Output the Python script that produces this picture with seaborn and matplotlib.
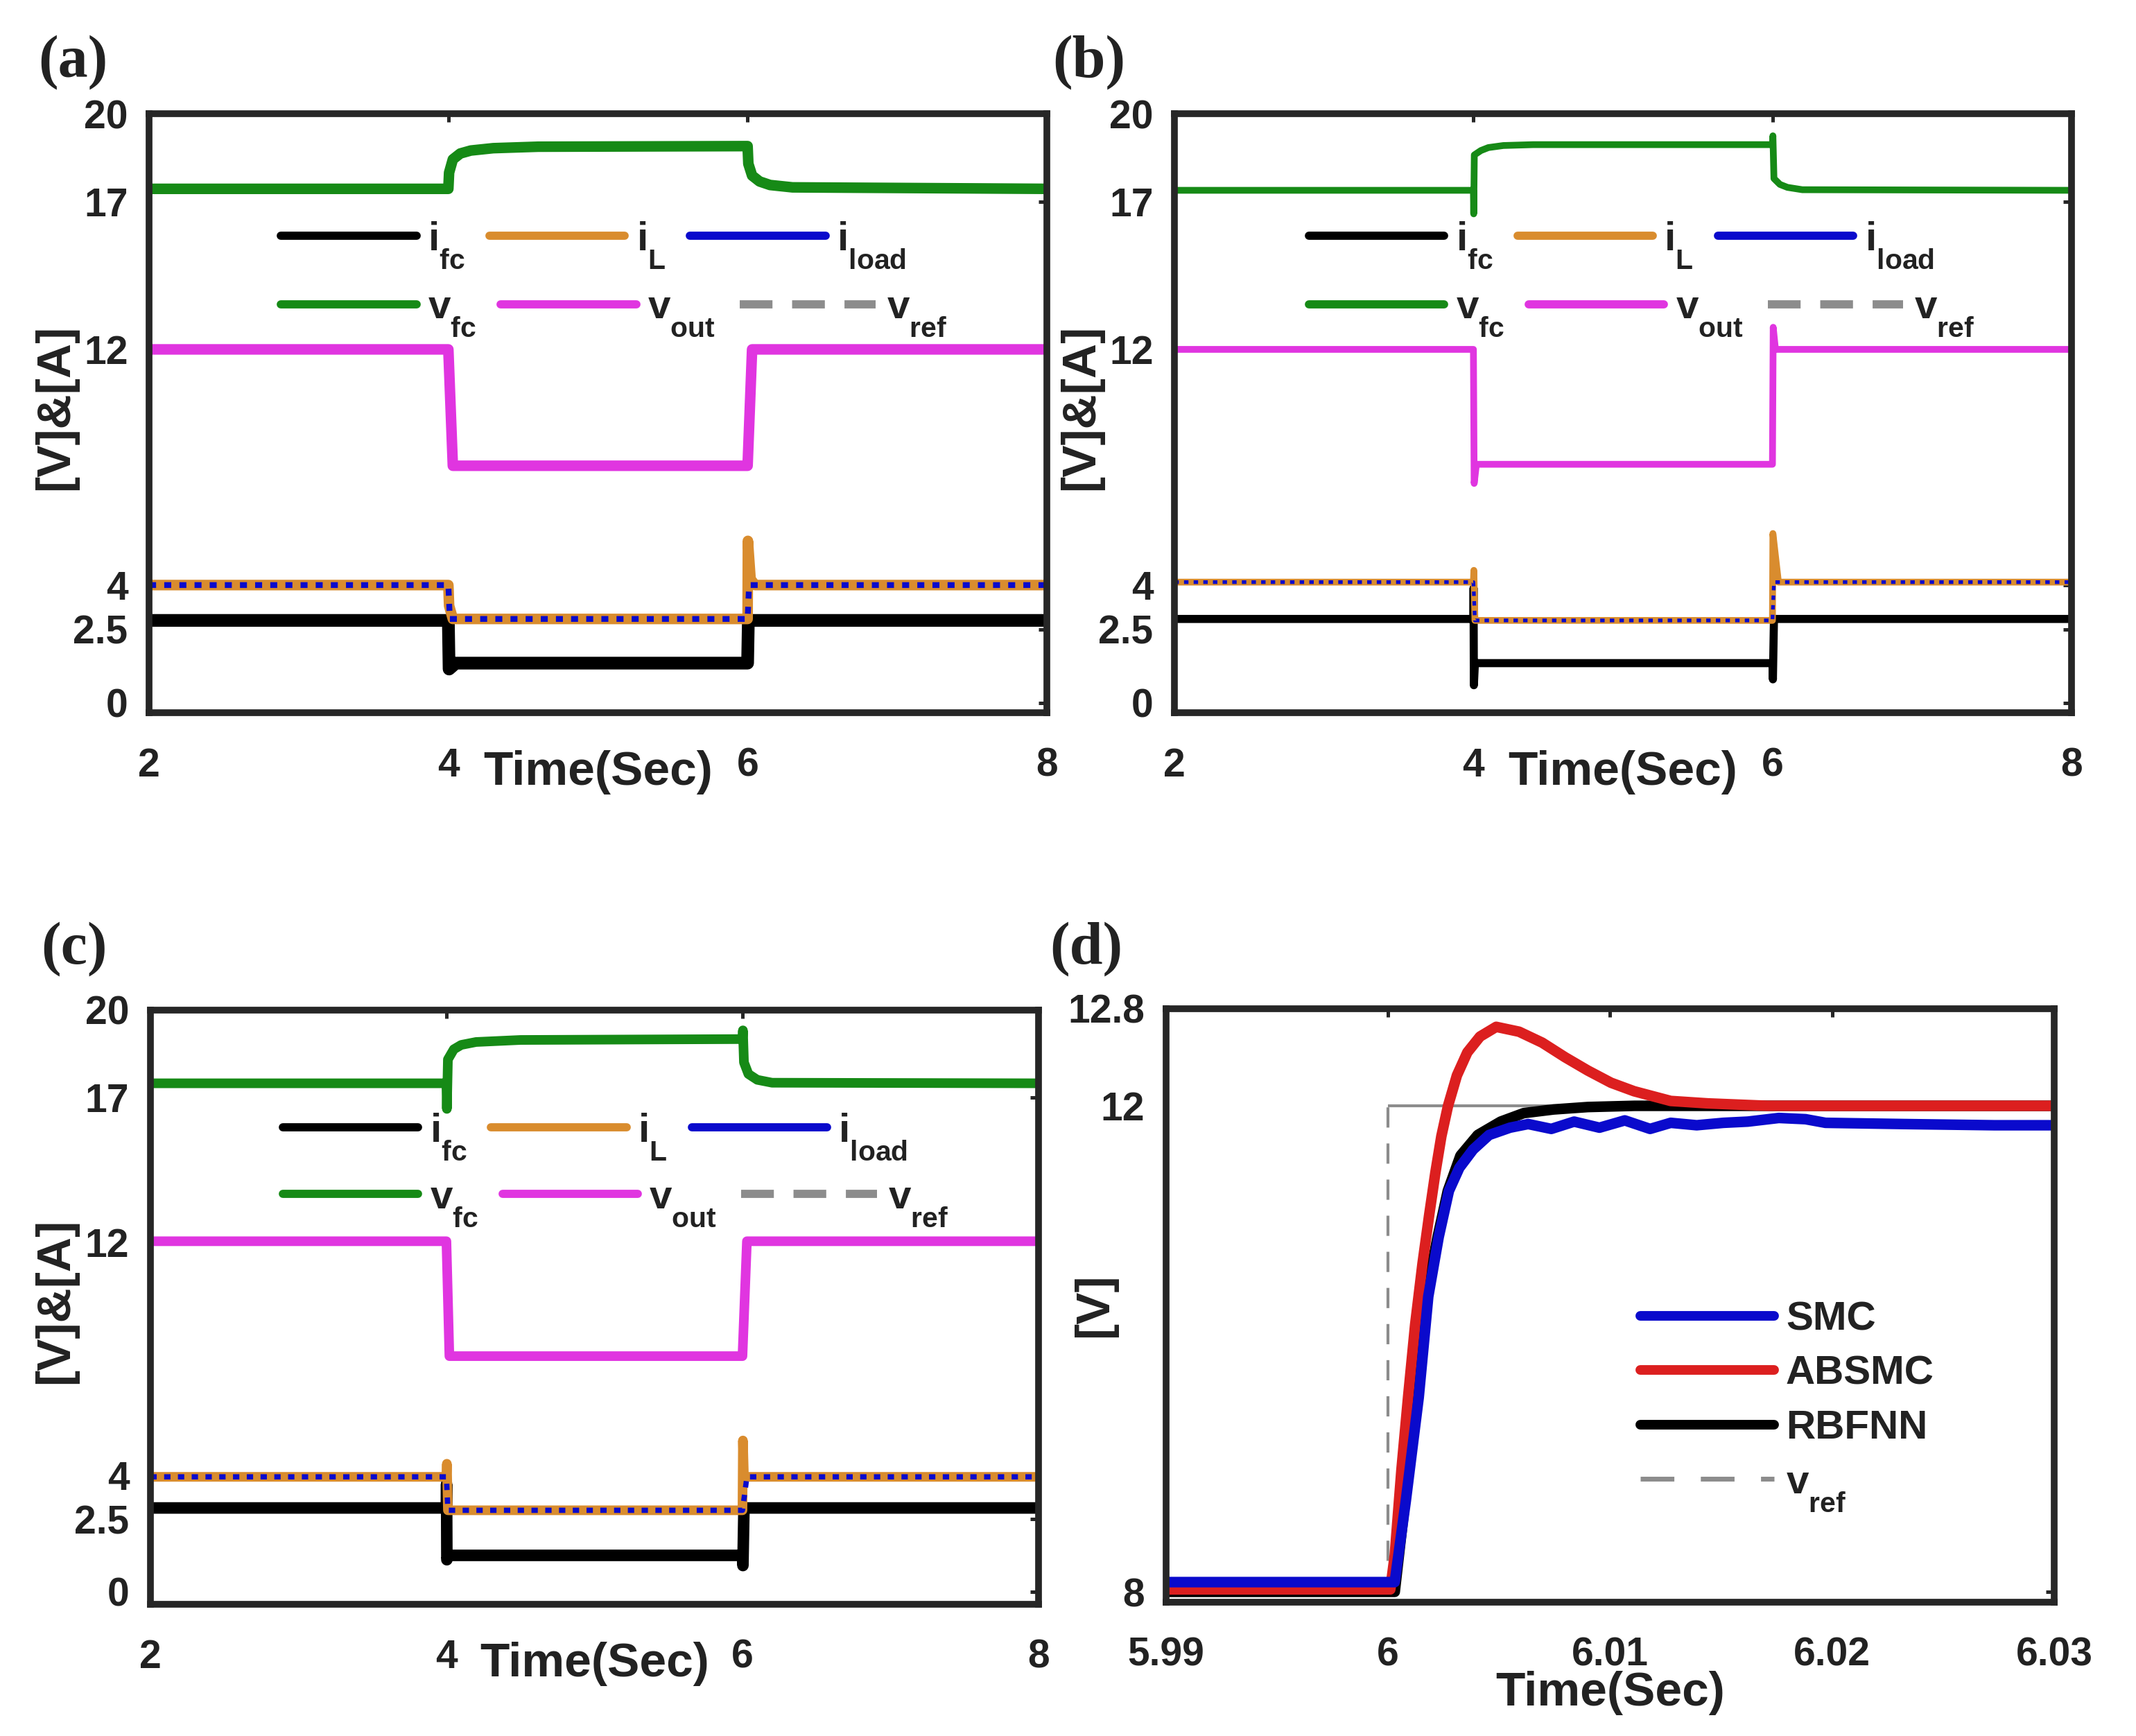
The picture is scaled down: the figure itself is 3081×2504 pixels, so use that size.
import matplotlib

matplotlib.use("Agg")
import matplotlib._mathtext as mathtext_internal
import matplotlib.pyplot as plt
import seaborn as sns
from matplotlib.lines import Line2D

# MATLAB puts subscripts well below the baseline
mathtext_internal.FontConstantsBase.sub1 = 0.9

# ---------------- data ----------------
# panel (a)
a_vfc_t = [2, 4, 4.005, 4.03, 4.08, 4.15, 4.3, 4.6, 6, 6.005, 6.03, 6.08, 6.15, 6.3, 8]
a_vfc = [17.45, 17.45, 18.0, 18.45, 18.65, 18.75, 18.83, 18.88, 18.9, 18.3, 17.9, 17.7, 17.58, 17.5, 17.45]
a_vout_t = [2, 4, 4.03, 6, 6.03, 8]
a_vout = [12, 12, 8.05, 8.05, 12, 12]
a_iL_t = [2, 4, 4.005, 4.03, 6, 6.002, 6.02, 6.05, 8]
a_iL = [4.0, 4.0, 3.3, 2.85, 2.85, 5.5, 4.2, 4.0, 4.0]
a_iload_t = [2, 4, 4.01, 6, 6.01, 8]
a_iload = [4.0, 4.0, 2.85, 2.85, 4.0, 4.0]
a_ifc_t = [2, 4, 4.005, 4.05, 6, 6.005, 8]
a_ifc = [2.8, 2.8, 1.15, 1.35, 1.35, 2.8, 2.8]

# panel (b)
b_vfc_t = [2, 4, 4.002, 4.006, 4.05, 4.1, 4.2, 4.4, 6, 6.003, 6.01, 6.05, 6.1, 6.2, 8]
b_vfc = [17.4, 17.4, 16.6, 18.6, 18.75, 18.85, 18.92, 18.95, 18.95, 19.25, 17.8, 17.6, 17.5, 17.42, 17.4]
b_vout_t = [2, 4, 4.005, 4.02, 6, 6.005, 6.02, 8]
b_vout = [12, 12, 7.45, 8.1, 8.1, 12.75, 12.0, 12]
b_iL_t = [2, 4, 4.003, 4.01, 6, 6.003, 6.04, 8]
b_iL = [4.1, 4.1, 4.5, 2.8, 2.8, 5.75, 4.1, 4.1]
b_iload_t = [2, 4, 4.01, 6, 6.01, 8]
b_iload = [4.1, 4.1, 2.8, 2.8, 4.1, 4.1]
b_ifc_t = [2, 4, 4.001, 4.003, 4.01, 6, 6.003, 6.01, 8]
b_ifc = [2.85, 2.85, 3.9, 0.6, 1.35, 1.35, 0.8, 2.85, 2.85]

# panel (c)
c_vfc_t = [2, 4, 4.003, 4.01, 4.05, 4.1, 4.2, 4.5, 6, 6.003, 6.01, 6.04, 6.1, 6.2, 8]
c_vfc = [17.48, 17.48, 16.6, 18.3, 18.65, 18.8, 18.9, 18.97, 19.0, 19.3, 18.2, 17.8, 17.6, 17.5, 17.48]
c_vout_t = [2, 4, 4.02, 6, 6.03, 8]
c_vout = [12.05, 12.05, 8.1, 8.1, 12.05, 12.05]
c_iL_t = [2, 4, 4.003, 4.01, 6, 6.003, 6.01, 8]
c_iL = [3.95, 3.95, 4.4, 2.8, 2.8, 5.2, 3.95, 3.95]
c_iload_t = [2, 4, 4.01, 6, 6.03, 8]
c_iload = [3.95, 3.95, 2.8, 2.8, 3.95, 3.95]
c_ifc_t = [2, 4, 4.001, 4.003, 4.01, 6, 6.003, 6.01, 8]
c_ifc = [2.88, 2.88, 3.7, 1.1, 1.25, 1.25, 0.9, 2.88, 2.88]

# panel (d): zoom on the step at t = 6 s
d_vref_t = [5.99, 6.0, 6.0, 6.03]
d_vref = [8, 8, 12, 12]
d_smc_t = [5.99, 6.0003, 6.0008, 6.00138, 6.00181, 6.00228, 6.00274, 6.00321, 6.00383, 6.00455,
           6.00549, 6.00631, 6.00735, 6.00838, 6.00952, 6.01066, 6.0118, 6.01273, 6.0139, 6.0151,
           6.0162, 6.0176, 6.0188, 6.0197, 6.0232, 6.0273, 6.03]
d_smc = [8.08, 8.08, 8.75, 9.6, 10.43, 10.92, 11.30, 11.49, 11.64, 11.76,
         11.82, 11.85, 11.81, 11.87, 11.82, 11.88, 11.81, 11.86, 11.84, 11.86,
         11.87, 11.90, 11.89, 11.86, 11.85, 11.84, 11.84]
d_absmc_t = [5.99, 6.0001, 6.0003, 6.0006, 6.0009, 6.00122, 6.00155, 6.00185, 6.00213, 6.0024,
             6.0027, 6.0031, 6.00357, 6.00414, 6.00487, 6.0059, 6.00694, 6.00797, 6.009, 6.01004,
             6.01108, 6.01211, 6.01273, 6.0144, 6.0171, 6.03]
d_absmc = [8.02, 8.02, 8.3, 9.0, 9.6, 10.2, 10.7, 11.1, 11.45, 11.75,
           12.0, 12.25, 12.44, 12.57, 12.65, 12.61, 12.52, 12.40, 12.29, 12.19,
           12.12, 12.07, 12.04, 12.02, 12.0, 12.0]
d_rbfnn_t = [5.99, 6.0003, 6.0008, 6.0012, 6.00171, 6.00223, 6.00269, 6.00326, 6.00404, 6.00507,
             6.00611, 6.00745, 6.009, 6.0111, 6.03]
d_rbfnn = [8.0, 8.0, 8.8, 9.6, 10.43, 10.92, 11.30, 11.59, 11.76, 11.87,
           11.94, 11.97, 11.99, 12.0, 12.0]

# ticks
vi_yticks = [0, 2.5, 4, 12, 17, 20]
vi_yticklabels = ["0", "2.5", "4", "12", "17", "20"]
vi_xticks = [2, 4, 6, 8]
vi_xticklabels = ["2", "4", "6", "8"]
d_yticks = [8, 12, 12.8]
d_yticklabels = ["8", "12", "12.8"]
d_xticks = [5.99, 6.0, 6.01, 6.02, 6.03]
d_xticklabels = ["5.99", "6", "6.01", "6.02", "6.03"]

legend_row1 = [r"i$_{\mathrm{fc}}$", r"i$_{\mathrm{L}}$", r"i$_{\mathrm{load}}$"]
legend_row2 = [r"v$_{\mathrm{fc}}$", r"v$_{\mathrm{out}}$", r"v$_{\mathrm{ref}}$"]
d_labels = ["SMC", "ABSMC", "RBFNN", r"v$_{\mathrm{ref}}$"]

# ---------------- style ----------------
sns.set_theme(style="white")
plt.rcParams["font.family"] = ["Liberation Sans", "DejaVu Sans"]
plt.rcParams["font.weight"] = "bold"
plt.rcParams["axes.labelweight"] = "bold"
plt.rcParams["mathtext.fontset"] = "custom"
plt.rcParams["mathtext.rm"] = "Liberation Sans:bold"
plt.rcParams["mathtext.it"] = "Liberation Sans:bold"
plt.rcParams["mathtext.bf"] = "Liberation Sans:bold"
plt.rcParams["mathtext.sf"] = "Liberation Sans:bold"

TXT = "#222222"
GREEN = "#168a16"
MAGENTA = "#e035e0"
ORANGE = "#d98c2e"
BLUE = "#0a0acc"
BLACK = "#000000"
GRAY = "#8c8c8c"
RED = "#dc1f1f"


def trace(ax, t, v, color, lw, dashes=None, z=2):
    sns.lineplot(x=t, y=v, ax=ax, color=color, linewidth=lw, estimator=None,
                 sort=False, zorder=z, legend=False)
    line = ax.lines[-1]
    line.set_solid_capstyle("butt")
    line.set_solid_joinstyle("round")
    if dashes is not None:
        line.set_dashes(dashes)
    return line


def style_axes(ax, xlim, ylim, xticks, xlabels, yticks, ylabels):
    ax.set_xlim(xlim)
    ax.set_ylim(ylim)
    ax.set_xticks(xticks)
    ax.set_xticklabels(xlabels)
    ax.set_yticks(yticks)
    ax.set_yticklabels(ylabels)
    ax.grid(False)
    ax.tick_params(direction="in", length=8.5, width=3.6, top=True, right=True,
                   labelsize=41, color="#262626", labelcolor=TXT)
    ax.tick_params(axis="x", pad=36)
    ax.tick_params(axis="y", pad=22)
    for sp in ax.spines.values():
        sp.set_linewidth(7)
        sp.set_color("#262626")
        sp.set_zorder(10)


def power_panel(ax, vfc_t, vfc, vout_t, vout, iL_t, iL, iload_t, iload, ifc_t, ifc,
                lw, ylim, leg_x, leg_y1, leg_y2, ylab_x):
    # v_ref sits under v_out in these panels, so it only shows in the legend
    trace(ax, ifc_t, ifc, BLACK, lw * 1.2, z=2)
    trace(ax, iL_t, iL, ORANGE, lw, z=3)
    trace(ax, iload_t, iload, BLUE, lw * 0.55, dashes=(1.2, 1.4), z=4)
    trace(ax, vfc_t, vfc, GREEN, lw, z=5)
    trace(ax, vout_t, vout, MAGENTA, lw, z=6)
    style_axes(ax, (2, 8), ylim, vi_xticks, vi_xticklabels, vi_yticks, vi_yticklabels)

    ax.set_xlabel("Time(Sec)", fontsize=50, color=TXT)
    ax.xaxis.set_label_coords(0.5, -0.063)
    ax.xaxis.label.set_verticalalignment("top")
    ax.set_ylabel("[V]&[A]", fontsize=50, color=TXT)
    ax.yaxis.set_label_coords(ylab_x, 0.51)
    ax.yaxis.label.set_verticalalignment("center")

    h1 = [Line2D([], [], color=c, lw=8.5) for c in (BLACK, ORANGE, BLUE)]
    h2 = [Line2D([], [], color=GREEN, lw=8.5), Line2D([], [], color=MAGENTA, lw=8.5),
          Line2D([], [], color=GRAY, lw=8.5, dashes=(4, 2.4))]
    opts = dict(loc="center left", ncol=3, frameon=False, fontsize=42,
                handlelength=3.35, handletextpad=0.28, columnspacing=0.6,
                borderpad=0, borderaxespad=0, labelcolor=TXT)
    leg1 = ax.legend(handles=h1, labels=legend_row1, bbox_to_anchor=(leg_x, leg_y1), **opts)
    ax.add_artist(leg1)
    ax.legend(handles=h2, labels=legend_row2, bbox_to_anchor=(leg_x, leg_y2), **opts)


fig = plt.figure(figsize=(30.81, 25.04), dpi=100)
ax_a = fig.add_axes([0.0698, 0.5895, 0.4203, 0.3450])
ax_b = fig.add_axes([0.5498, 0.5895, 0.4200, 0.3450])
ax_c = fig.add_axes([0.0704, 0.0759, 0.4158, 0.3423])
ax_d = fig.add_axes([0.5459, 0.0771, 0.4158, 0.3419])

power_panel(ax_a, a_vfc_t, a_vfc, a_vout_t, a_vout, a_iL_t, a_iL, a_iload_t, a_iload,
            a_ifc_t, a_ifc, 11, (-0.33, 20), 0.147, 0.781, 0.666, -0.104)
power_panel(ax_b, b_vfc_t, b_vfc, b_vout_t, b_vout, b_iL_t, b_iL, b_iload_t, b_iload,
            b_ifc_t, b_ifc, 7, (-0.33, 20), 0.150, 0.781, 0.666, -0.104)
power_panel(ax_c, c_vfc_t, c_vfc, c_vout_t, c_vout, c_iL_t, c_iL, c_iload_t, c_iload,
            c_ifc_t, c_ifc, 10, (-0.43, 20), 0.149, 0.787, 0.674, -0.107)

# panel (d): the vertical part of v_ref is dashed, the flat top looks solid
trace(ax_d, d_vref_t[:3], d_vref[:3], GRAY, 3, dashes=(7, 5.5), z=1)
trace(ax_d, d_vref_t[2:], d_vref[2:], GRAY, 3, z=1)
trace(ax_d, d_rbfnn_t, d_rbfnn, BLACK, 11, z=2)
trace(ax_d, d_absmc_t, d_absmc, RED, 11, z=3)
trace(ax_d, d_smc_t, d_smc, BLUE, 11, z=4)
style_axes(ax_d, (5.99, 6.03), (7.915, 12.8), d_xticks, d_xticklabels, d_yticks, d_yticklabels)
ax_d.set_xlabel("Time(Sec)", fontsize=50, color=TXT)
ax_d.xaxis.set_label_coords(0.5, -0.116)
ax_d.xaxis.label.set_verticalalignment("top")
ax_d.set_ylabel("[V]", fontsize=50, color=TXT)
ax_d.yaxis.set_label_coords(-0.080, 0.5)
ax_d.yaxis.label.set_verticalalignment("center")
d_handles = [Line2D([], [], color=BLUE, lw=10), Line2D([], [], color=RED, lw=10),
             Line2D([], [], color=BLACK, lw=10),
             Line2D([], [], color=GRAY, lw=5, dashes=(7, 5.5))]
ax_d.legend(handles=d_handles, labels=d_labels, loc="upper left",
            bbox_to_anchor=(0.534, 0.508), frameon=False, fontsize=42,
            handlelength=3.3, handletextpad=0.3, labelspacing=0.42,
            borderpad=0, borderaxespad=0, labelcolor=TXT)

# panel letters
for x, y, s in [(0.0341, 0.964, "(a)"), (0.510, 0.964, "(b)"),
                (0.0347, 0.4533, "(c)"), (0.5086, 0.4533, "(d)")]:
    fig.text(x, y, s, family="Liberation Serif", weight="bold", fontsize=62,
             ha="center", va="center", color=TXT)

fig.savefig("out.png", dpi=100)
